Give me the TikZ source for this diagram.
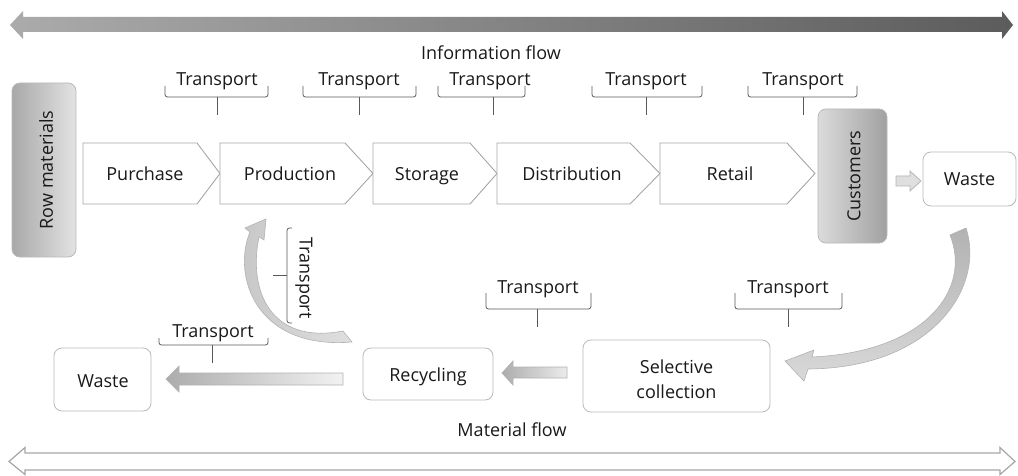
\documentclass[tikz,border=0pt]{standalone}
\usepackage{fontspec}
\setmainfont{Open Sans}
\newcommand{\mybrace}[6]{%
  \draw[brc] (#1,#4) -- (#1,#5) -- (#2,#5) -- (#2,#4);
  \draw[brc] (#3,#5) -- (#3,#6);}
\begin{document}
\begin{tikzpicture}[x=1pt,y=-1pt,
  font=\fontsize{18}{24}\selectfont, text=black!90,
  box/.style={draw=gray!55, line width=0.8pt, rounded corners=8pt, fill=white},
  pent/.style={draw=gray!70, line width=0.9pt, fill=white},
  lbl/.style={inner sep=0pt},
  bl/.style={inner sep=0pt, anchor=base},
  brc/.style={draw=black!65, line width=0.8pt, rounded corners=2.5pt},
  curv/.style={draw=gray!60, line width=0.6pt},
]
\useasboundingbox (0,0) rectangle (1018,476);

% information flow
\shade[left color=black!33, right color=black!64]
  (10,25) -- (23,11) -- (23,17) -- (1002,17) -- (1002,11) -- (1013,25)
  -- (1002,39) -- (1002,32) -- (23,32) -- (23,39) -- cycle;
\node[lbl] (info) at (491,53) {Information flow};

% top transport braces
\mybrace{165}{268}{217}{86}{97}{115}
\node[bl] (t1) at (217,86) {Transport};
\mybrace{303}{416}{359}{86}{97}{115}
\node[bl] (t2) at (359,86) {Transport};
\mybrace{438}{525}{493}{86}{97}{115}
\node[bl] (t3) at (490,86) {Transport};
\mybrace{592}{702}{646}{86}{97}{115}
\node[bl] (t4) at (646,86) {Transport};
\mybrace{748}{857}{803}{86}{97}{115}
\node[bl] (t5) at (803,86) {Transport};

% row materials
\node[draw=gray!55, line width=0.8pt, rounded corners=8pt, left color=gray!68, right color=gray!22,
      minimum width=64pt, minimum height=174pt] (row) at (44,170) {};
\node[lbl, rotate=90] (rowt) at (46,170) {Row materials};

% process pentagons
\draw[pent] (83,143) -- (197,143) -- (220,173.5) -- (197,204) -- (83,204) -- cycle;
\node[bl] (purchase) at (145,181) {Purchase};
\draw[pent] (220,143) -- (345,143) -- (373,173.5) -- (345,204) -- (220,204) -- cycle;
\node[bl] (production) at (290,181) {Production};
\draw[pent] (373,143) -- (470,143) -- (497,173.5) -- (470,204) -- (373,204) -- cycle;
\node[bl] (storage) at (427,181) {Storage};
\draw[pent] (497,143) -- (630,143) -- (660,173.5) -- (630,204) -- (497,204) -- cycle;
\node[bl] (distribution) at (572,181) {Distribution};
\draw[pent] (660,143) -- (787,143) -- (815,173.5) -- (787,204) -- (660,204) -- cycle;
\node[bl] (retail) at (730,181) {Retail};

% customers
\node[draw=gray!55, line width=0.8pt, rounded corners=8pt, left color=gray!28, right color=gray!74,
      minimum width=69pt, minimum height=134pt] (cust) at (852.5,176) {};
\node[lbl, rotate=90] (custt) at (854,176) {Customers};

% waste right
\node[box, minimum width=93pt, minimum height=54pt] (wasteR) at (969.5,179) {};
\node[bl] (wasteRt) at (969.5,185.5) {Waste};
\draw[draw=gray!60, line width=0.7pt, fill=gray!25]
  (896,176) -- (910,176) -- (910,171) -- (921,181) -- (910,191) -- (910,186) -- (896,186) -- cycle;

% curved arrow waste -> selective collection
\shadedraw[curv, top color=gray!60, bottom color=gray!30]
  (966,228) .. controls (985,285) and (935,368) .. (808,369)
  -- (804,381) -- (785,361) -- (814,350) -- (812,357)
  .. controls (925,352) and (972,290) .. (950,235) -- cycle;

% lower row boxes
\node[box, minimum width=187pt, minimum height=72pt] (sel) at (676.5,376) {};
\node[bl] (selt1) at (676.5,373) {Selective};
\node[bl] (selt2) at (676.5,398) {collection};
\node[box, minimum width=130pt, minimum height=52pt] (rec) at (428,374) {};
\node[bl] (rect) at (428,381.5) {Recycling};
\node[box, minimum width=97pt, minimum height=63pt] (wasteL) at (102.5,379.5) {};
\node[bl] (wasteLt) at (103,387) {Waste};

% lower braces
\mybrace{486}{591}{537}{293}{309}{327}
\node[bl] (t6) at (538,293) {Transport};
\mybrace{735}{842}{788}{293}{309}{327}
\node[bl] (t7) at (788,293) {Transport};
\mybrace{159}{268}{212}{338}{345}{363}
\node[bl] (t8) at (213,337) {Transport};

% straight block arrows
\shadedraw[draw=gray!60, line width=0.7pt, left color=gray!65, right color=gray!15]
  (567,367) -- (513,367) -- (513,361) -- (502,373) -- (513,385) -- (513,378) -- (567,378) -- cycle;
\shadedraw[draw=gray!60, line width=0.7pt, left color=gray!65, right color=gray!10]
  (343,373) -- (179,373) -- (179,366) -- (166,379) -- (179,392) -- (179,385) -- (343,385) -- cycle;

% curved arrow recycling -> production
\shadedraw[curv, left color=gray!45, right color=gray!25]
  (352,342) .. controls (255,350) and (232,275) .. (250,232)
  -- (245,228) -- (266,219) -- (264,240) -- (259,237)
  .. controls (248,290) and (270,345) .. (343,331) -- cycle;

% vertical brace
\draw[brc] (292,228) -- (287,228) -- (287,323) -- (292,323);
\draw[brc] (287,275) -- (273,275);
\node[lbl, rotate=-90] (t9) at (304,278) {Transport};

% material flow
\node[lbl] (mat) at (512,430) {Material flow};
\draw[draw=gray!70, line width=1.2pt, fill=white, line join=miter]
  (9,461.5) -- (25,447.5) -- (25,453) -- (1000,453) -- (1000,447.5) -- (1015,461.5)
  -- (1000,474.5) -- (1000,470) -- (25,470) -- (25,474.5) -- cycle;
\end{tikzpicture}
\end{document}
